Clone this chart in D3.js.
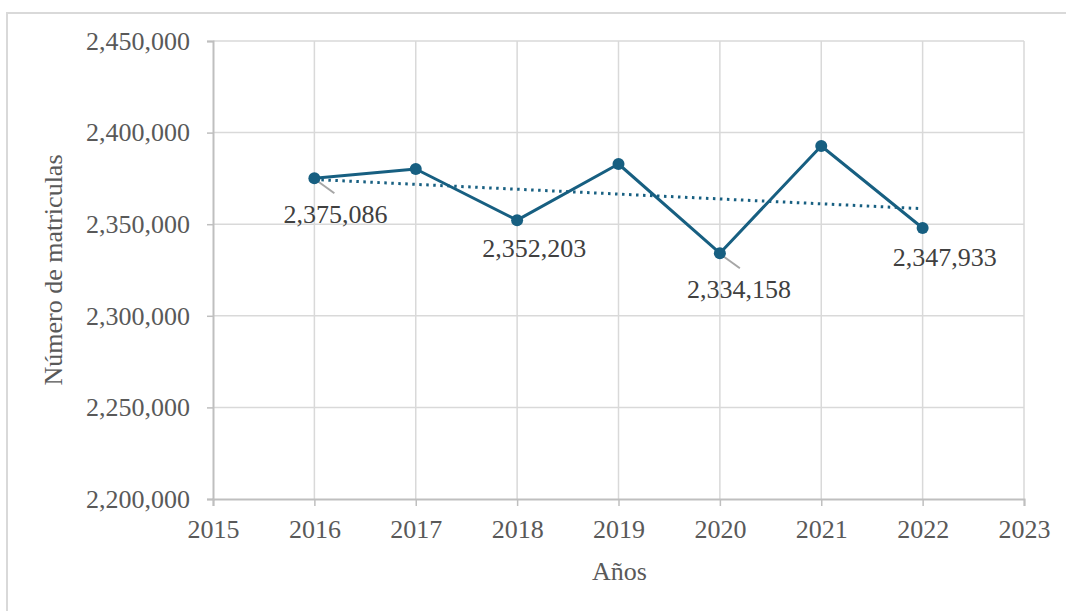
<!DOCTYPE html>
<html>
<head>
<meta charset="utf-8">
<script src="https://cdn.jsdelivr.net/npm/d3@7"></script>
<style>
  html, body { margin: 0; padding: 0; background: #ffffff; }
  svg { display: block; }
  text { font-family: "Liberation Serif", "Times New Roman", serif; }
</style>
</head>
<body>
<svg id="chart" width="1066" height="611"></svg>
<script>
// ---- data ----
const years = [2016, 2017, 2018, 2019, 2020, 2021, 2022];
const matriculas = [2375086, 2380131, 2352203, 2382860, 2334158, 2392686, 2347933];
const labeledYears = [2016, 2018, 2020, 2022];
const xTicks = [2015, 2016, 2017, 2018, 2019, 2020, 2021, 2022, 2023];
const yTicks = [2200000, 2250000, 2300000, 2350000, 2400000, 2450000];
const xTitle = "Años";
const yTitle = "Número de matriculas";

// ---- layout ----
const W = 1066, H = 611;
const plot = { left: 213, right: 1024, top: 41, bottom: 499 };
const lineColor = "#175f81";
const gridColor = "#d9d9d9";
// label offsets (px) relative to point, and whether a leader line is drawn
const labelLayout = {
  2016: { dx: 21, dy: 45, leader: true },
  2018: { dx: 17, dy: 37, leader: false },
  2020: { dx: 19, dy: 45, leader: true },
  2022: { dx: 22, dy: 38, leader: false }
};

const svg = d3.select("#chart");

// outer chart border
svg.append("rect")
  .attr("x", 7).attr("y", 13)
  .attr("width", W + 20).attr("height", H + 20)
  .attr("fill", "none").attr("stroke", gridColor).attr("stroke-width", 2);

const x = d3.scaleLinear().domain([2015, 2023]).range([plot.left, plot.right]);
const y = d3.scaleLinear().domain([2200000, 2450000]).range([plot.bottom, plot.top]);

// gridlines
svg.append("g").selectAll("line.h").data(yTicks.slice(1)).join("line")
  .attr("x1", plot.left).attr("x2", plot.right)
  .attr("y1", d => y(d)).attr("y2", d => y(d))
  .attr("stroke", gridColor).attr("stroke-width", 1.5);
svg.append("g").selectAll("line.v").data(xTicks.slice(1)).join("line")
  .attr("x1", d => x(d)).attr("x2", d => x(d))
  .attr("y1", plot.top).attr("y2", plot.bottom)
  .attr("stroke", gridColor).attr("stroke-width", 1.5);

// axes
const fmt = d3.format(",");
const yAxis = svg.append("g").attr("transform", `translate(${plot.left},0)`)
  .call(d3.axisLeft(y).tickValues(yTicks).tickFormat(fmt).tickSize(6).tickPadding(17));
const xAxis = svg.append("g").attr("transform", `translate(0,${plot.bottom})`)
  .call(d3.axisBottom(x).tickValues(xTicks).tickFormat(d3.format("d")).tickSize(7).tickPadding(9));

[yAxis, xAxis].forEach(g => {
  g.select(".domain").attr("stroke", "#bfbfbf").attr("stroke-width", 2);
  g.selectAll(".tick line").attr("stroke", "#bfbfbf").attr("stroke-width", 1.5);
  g.selectAll(".tick text")
    .attr("fill", "#595959")
    .style("font-family", '"Liberation Serif", "Times New Roman", serif')
    .style("font-size", "26px");
});
yAxis.selectAll(".tick text").attr("dy", "0.32em");
xAxis.selectAll(".tick text").attr("dy", "0.9em");

// trend line (least squares)
const n = years.length;
const mx = d3.mean(years), my = d3.mean(matriculas);
let sxy = 0, sxx = 0;
years.forEach((yr, i) => { sxy += (yr - mx) * (matriculas[i] - my); sxx += (yr - mx) ** 2; });
const slope = sxy / sxx, intercept = my - slope * mx;
const trendYears = [years[0], years[n - 1]];
svg.append("path")
  .datum(trendYears)
  .attr("d", d3.line().x(d => x(d)).y(d => y(intercept + slope * d)))
  .attr("fill", "none").attr("stroke", lineColor)
  .attr("stroke-width", 3).attr("stroke-dasharray", "2.5,4.5");

// main line
const data = years.map((yr, i) => ({ year: yr, value: matriculas[i] }));
svg.append("path")
  .datum(data)
  .attr("d", d3.line().x(d => x(d.year)).y(d => y(d.value)))
  .attr("fill", "none").attr("stroke", lineColor)
  .attr("stroke-width", 3).attr("stroke-linejoin", "round");

// leader lines
const labeled = data.filter(d => labeledYears.includes(d.year));
svg.append("g").selectAll("line").data(labeled.filter(d => labelLayout[d.year].leader)).join("line")
  .attr("x1", d => x(d.year) + 2).attr("y1", d => y(d.value) + 2)
  .attr("x2", d => x(d.year) + 20).attr("y2", d => y(d.value) + 15)
  .attr("stroke", "#a6a6a6").attr("stroke-width", 2);

// markers
svg.append("g").selectAll("circle").data(data).join("circle")
  .attr("cx", d => x(d.year)).attr("cy", d => y(d.value))
  .attr("r", 6).attr("fill", lineColor);

// data labels
svg.append("g").selectAll("text").data(labeled).join("text")
  .attr("x", d => x(d.year) + labelLayout[d.year].dx)
  .attr("y", d => y(d.value) + labelLayout[d.year].dy)
  .attr("text-anchor", "middle")
  .attr("fill", "#404040")
  .style("font-size", "26px")
  .text(d => fmt(d.value));

// axis titles
svg.append("text")
  .attr("x", (plot.left + plot.right) / 2 + 1).attr("y", 580)
  .attr("text-anchor", "middle").attr("fill", "#595959")
  .style("font-size", "26px").text(xTitle);
svg.append("text")
  .attr("transform", `translate(62,${(plot.top + plot.bottom) / 2}) rotate(-90)`)
  .attr("text-anchor", "middle").attr("fill", "#595959")
  .style("font-size", "26px").text(yTitle);
</script>
</body>
</html>
